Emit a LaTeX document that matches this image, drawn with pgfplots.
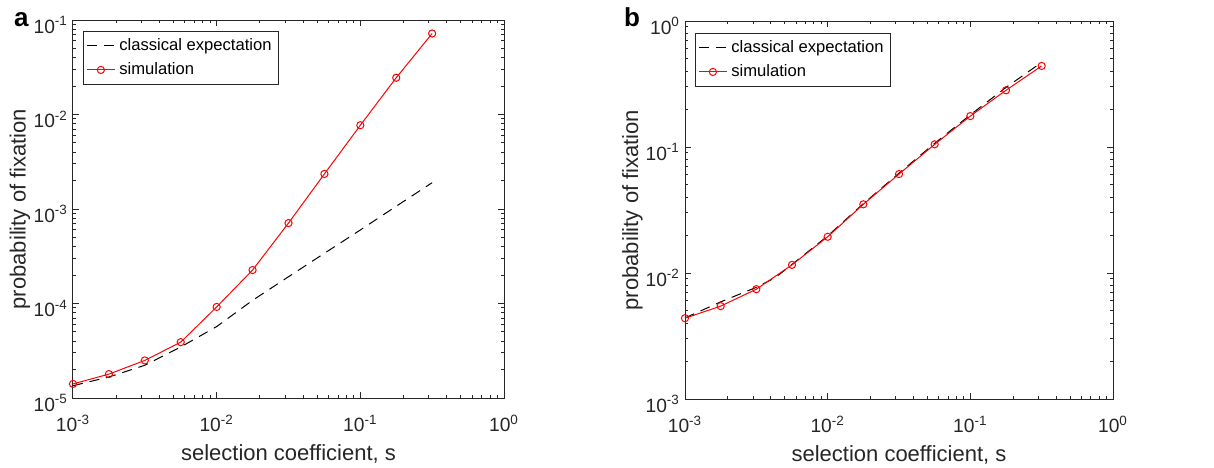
\documentclass[border=0pt]{standalone}
\usepackage{pgfplots}
\pgfplotsset{compat=1.18}
\usepackage{fontspec}
\setmainfont{Liberation Sans}

\definecolor{axgray}{RGB}{38,38,38}

\pgfplotsset{
  legend image code/.code={
    \draw[mark repeat=2, mark phase=2, #1] plot coordinates {(0pt,0pt) (7pt,0pt) (14pt,0pt)};
  },
}

\begin{document}
\begin{tikzpicture}
\useasboundingbox (0,0) rectangle (607pt,233.5pt);

% panel a
\begin{axis}[
  xmode=log, ymode=log, scale only axis,
  at={(36.5pt,34.5pt)}, anchor=south west,
  width=215.5pt, height=189pt,
  axis line style={axgray, line width=0.5pt},
  tick style={axgray, line width=0.5pt},
  major tick length=3pt, minor tick length=1.6pt,
  xmin=1e-3, xmax=1, ymin=1e-5, ymax=1e-1,
  xtick={1e-3,1e-2,1e-1,1},
  xticklabels={10\textsuperscript{-3},10\textsuperscript{-2},10\textsuperscript{-1},10\textsuperscript{0}},
  ytick={1e-5,1e-4,1e-3,1e-2,1e-1},
  yticklabels={10\textsuperscript{-5},10\textsuperscript{-4},10\textsuperscript{-3},10\textsuperscript{-2},10\textsuperscript{-1}},
  ticklabel style={font=\fontsize{9.6}{11}\selectfont, text=axgray},
  xticklabel style={yshift=-5pt},
  yticklabel style={yshift=-2.5pt, xshift=1pt},
  xlabel={selection coefficient, s},
  ylabel={probability of fixation},
  label style={font=\fontsize{11}{13}\selectfont, text=axgray},
  xlabel style={at={(axis description cs:0.5,0)}, anchor=base, yshift=-31pt},
  ylabel style={at={(axis description cs:-0.123,0.5)}, anchor=center},
  legend style={at={(0,1)}, anchor=north west, xshift=5pt, yshift=-5.5pt,
    draw=axgray, line width=0.4pt, font=\fontsize{8.3}{10}\selectfont,
    inner sep=1.5pt, row sep=0.5pt, cells={anchor=west}},
]
\addplot[black, line width=0.5pt, dash pattern=on 5pt off 3.5pt] coordinates {
  (0.001,1.35e-5) (0.001778,1.67e-5) (0.003162,2.22e-5) (0.005623,3.47e-5)
  (0.01,5.7e-5) (0.01778,1.08e-4) (0.03162,1.92e-4) (0.05623,3.4e-4)
  (0.1,6.0e-4) (0.1778,1.07e-3) (0.3162,1.9e-3)
};
\addplot[red, line width=0.5pt, mark=o, mark size=1.8pt, mark options={solid}] coordinates {
  (0.001,1.41e-5) (0.001778,1.79e-5) (0.003162,2.5e-5) (0.005623,3.9e-5)
  (0.01,9.2e-5) (0.01778,2.26e-4) (0.03162,7.1e-4) (0.05623,2.35e-3)
  (0.1,7.7e-3) (0.1778,2.45e-2) (0.3162,7.2e-2)
};
\legend{classical expectation, simulation}
\end{axis}

% panel b
\begin{axis}[
  xmode=log, ymode=log, scale only axis,
  at={(342.5pt,34pt)}, anchor=south west,
  width=214pt, height=189pt,
  axis line style={axgray, line width=0.5pt},
  tick style={axgray, line width=0.5pt},
  major tick length=3pt, minor tick length=1.6pt,
  xmin=1e-3, xmax=1, ymin=1e-3, ymax=1,
  xtick={1e-3,1e-2,1e-1,1},
  xticklabels={10\textsuperscript{-3},10\textsuperscript{-2},10\textsuperscript{-1},10\textsuperscript{0}},
  ytick={1e-3,1e-2,1e-1,1},
  yticklabels={10\textsuperscript{-3},10\textsuperscript{-2},10\textsuperscript{-1},10\textsuperscript{0}},
  ticklabel style={font=\fontsize{9.6}{11}\selectfont, text=axgray},
  xticklabel style={yshift=-5pt},
  yticklabel style={yshift=-2.5pt, xshift=1pt},
  xlabel={selection coefficient, s},
  ylabel={probability of fixation},
  label style={font=\fontsize{11}{13}\selectfont, text=axgray},
  xlabel style={at={(axis description cs:0.5,0)}, anchor=base, yshift=-31pt},
  ylabel style={at={(axis description cs:-0.123,0.5)}, anchor=center},
  legend style={at={(0,1)}, anchor=north west, xshift=5pt, yshift=-6pt,
    draw=axgray, line width=0.4pt, font=\fontsize{8.3}{10}\selectfont,
    inner sep=1.5pt, row sep=0.5pt, cells={anchor=west}},
]
\addplot[black, line width=0.5pt, dash pattern=on 5pt off 3.5pt] coordinates {
  (0.001,4.4e-3) (0.001778,5.9e-3) (0.003162,7.7e-3) (0.0043,9.2e-3)
  (0.005623,1.17e-2) (0.01,1.97e-2) (0.01778,3.55e-2) (0.03162,6.2e-2)
  (0.05623,0.107) (0.1,0.18) (0.1778,0.297) (0.3162,0.47)
};
\addplot[red, line width=0.5pt, mark=o, mark size=1.8pt, mark options={solid}] coordinates {
  (0.001,4.38e-3) (0.001778,5.46e-3) (0.003162,7.44e-3) (0.005623,1.16e-2)
  (0.01,1.94e-2) (0.01778,3.51e-2) (0.03162,6.1e-2) (0.05623,0.105)
  (0.1,0.176) (0.1778,0.282) (0.3162,0.44)
};
\legend{classical expectation, simulation}
\end{axis}

\node[anchor=base west, font=\fontsize{13}{15}\selectfont\bfseries] at (3.5pt,220pt) {a};
\node[anchor=base west, font=\fontsize{13}{15}\selectfont\bfseries] at (308.5pt,220pt) {b};
\end{tikzpicture}
\end{document}
